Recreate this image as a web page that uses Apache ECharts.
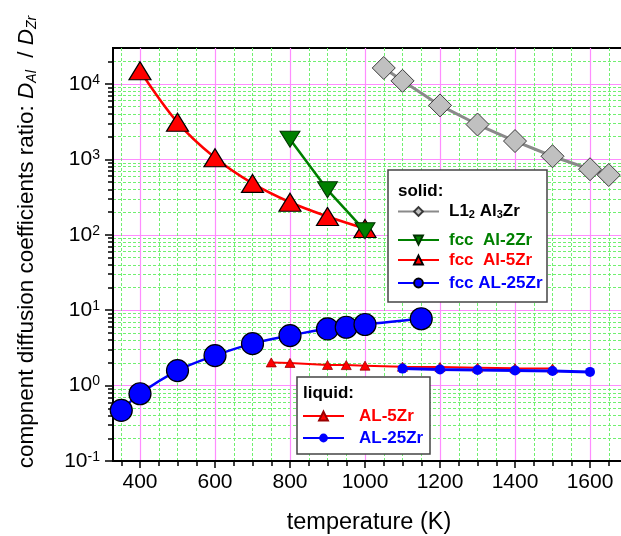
<!DOCTYPE html>
<html>
<head>
<meta charset="utf-8">
<script src="https://cdn.jsdelivr.net/npm/echarts@6/dist/echarts.min.js"></script>
<style>
  html, body { margin: 0; padding: 0; background: #fff; }
  #chart { width: 621px; height: 536px; }
</style>
</head>
<body>
<div id="chart"></div>
<script>
// Temperatures (K) and D_Al / D_Zr ratios for each phase / composition
const tempL12 = [1050, 1100, 1200, 1300, 1400, 1500, 1600, 1650];
const ratioL12 = [16300, 11000, 5200, 2900, 1750, 1100, 740, 620];

const tempFcc2 = [800, 900, 1000];
const ratioFcc2 = [1850, 395, 113];

const tempFcc5 = [400, 500, 600, 700, 800, 900, 1000];
const ratioFcc5 = [15000, 3100, 1050, 480, 270, 175, 121];

const tempFcc25 = [350, 400, 500, 600, 700, 800, 900, 950, 1000, 1150];
const ratioFcc25 = [0.47, 0.78, 1.58, 2.5, 3.6, 4.6, 5.66, 5.94, 6.46, 7.7];

const tempLiq5 = [750, 800, 900, 950, 1000, 1100, 1200, 1300, 1400, 1500];
const ratioLiq5 = [2.03, 2.0, 1.88, 1.87, 1.84, 1.78, 1.76, 1.73, 1.7, 1.68];

const tempLiq25 = [1100, 1200, 1300, 1400, 1500, 1600];
const ratioLiq25 = [1.68, 1.64, 1.61, 1.59, 1.56, 1.52];

// Tick positions
const xMajorTicks = [400, 600, 800, 1000, 1200, 1400, 1600];
const xMinorTicks = [350, 400, 450, 500, 550, 600, 650, 700, 750, 800, 850, 900, 950, 1000,
  1050, 1100, 1150, 1200, 1250, 1300, 1350, 1400, 1450, 1500, 1550, 1600, 1650];
const yMajorTicks = [0.1, 1, 10, 100, 1000, 10000];
const yMinorTicks = [0.2, 0.3, 0.4, 0.5, 0.6, 0.7, 0.8, 0.9,
  2, 3, 4, 5, 6, 7, 8, 9,
  20, 30, 40, 50, 60, 70, 80, 90,
  200, 300, 400, 500, 600, 700, 800, 900,
  2000, 3000, 4000, 5000, 6000, 7000, 8000, 9000,
  20000];

const FONT = '"Liberation Sans", Arial, Helvetica, sans-serif';
const MAGENTA = '#ff8cff';
const LIME = '#70f070';

function pairs(xs, ys) { return xs.map((x, i) => [x, ys[i]]); }

const chart = echarts.init(document.getElementById('chart'), null, { renderer: 'canvas' });

const commonX = { type: 'value', min: 328, max: 1700, position: 'bottom' };
const commonY = { type: 'log', logBase: 10, min: 0.1, max: 30000, position: 'left' };

function legendItem(name, left, cy, color, textPad, extra) {
  return Object.assign({
    show: true, orient: 'horizontal', left: left, top: cy - 9, padding: 0,
    itemWidth: 41, itemHeight: 11, selectedMode: false, z: 6,
    data: [name],
    textStyle: { fontFamily: FONT, fontSize: 17, fontWeight: 'bold', color: color,
      lineHeight: 18, padding: [0, 0, 0, textPad] }
  }, extra || {});
}

const option = {
  animation: false,
  backgroundColor: '#ffffff',
  grid: {
    left: 113, top: 48, width: 514.5, height: 413,
    show: true, borderColor: '#000', borderWidth: 2, backgroundColor: 'transparent',
    containLabel: false, outerBoundsMode: 'none'
  },
  xAxis: [
    Object.assign({}, commonX, {
      splitNumber: 27,
      axisLine: { show: true, onZero: false, lineStyle: { color: '#000', width: 2 } },
      axisTick: { show: true, length: 5, customValues: xMinorTicks, lineStyle: { color: '#000', width: 1.5 } },
      axisLabel: { show: false },
      splitLine: { show: true, lineStyle: { color: LIME, width: 1, type: [3, 2] } }
    }),
    Object.assign({}, commonX, {
      splitNumber: 7,
      axisLine: { show: false, onZero: false },
      axisTick: { show: true, length: 7, customValues: xMajorTicks, lineStyle: { color: '#000', width: 1.5 } },
      axisLabel: {
        show: true, customValues: xMajorTicks, margin: 11, color: '#000', fontSize: 21, fontFamily: FONT,
        formatter: function (v) { return String(v); }
      },
      splitLine: { show: true, lineStyle: { color: MAGENTA, width: 1.2 } }
    })
  ],
  yAxis: [
    Object.assign({}, commonY, {
      axisLine: { show: true, onZero: false, lineStyle: { color: '#000', width: 2 } },
      axisTick: { show: true, length: 5, customValues: yMinorTicks, lineStyle: { color: '#000', width: 1.5 } },
      axisLabel: { show: false },
      splitLine: { show: true, lineStyle: { color: LIME, width: 1, type: [3, 2] } }
    }),
    Object.assign({}, commonY, {
      axisLine: { show: false, onZero: false },
      axisTick: { show: true, length: 8, customValues: yMajorTicks, lineStyle: { color: '#000', width: 1.5 } },
      axisLabel: {
        show: true, customValues: yMajorTicks, margin: 13,
        formatter: function (v) {
          const e = Math.round(Math.log10(v));
          if (Math.abs(Math.log10(v) - e) > 1e-6) return '';
          return '{b|10}{sup|' + e + '}';
        },
        rich: {
          b: { fontSize: 21, fontFamily: FONT, color: '#000', lineHeight: 22 },
          sup: { fontSize: 14, fontFamily: FONT, color: '#000', lineHeight: 14, verticalAlign: 'top' }
        }
      },
      splitLine: { show: true, lineStyle: { color: MAGENTA, width: 1.2 } }
    })
  ],
  legend: [
    legendItem('L12 Al3Zr', 397, 212, '#000', 5, {
      formatter: function () { return '{n|L1}{s|2}{n| Al}{s|3}{n|Zr}'; },
      textStyle: {
        fontFamily: FONT, fontSize: 17, fontWeight: 'bold', color: '#000', padding: [0, 0, 0, 5],
        rich: {
          n: { fontFamily: FONT, fontSize: 17, fontWeight: 'bold', color: '#000', lineHeight: 18 },
          s: { fontFamily: FONT, fontSize: 11, fontWeight: 'bold', color: '#000', lineHeight: 10, verticalAlign: 'bottom' }
        }
      }
    }),
    legendItem('fcc  Al-2Zr', 397, 240, '#008000', 5),
    legendItem('fcc  Al-5Zr', 397, 260, '#ff0000', 5),
    legendItem('fcc AL-25Zr', 397, 283, '#0000ff', 5),
    legendItem('AL-5Zr', 302, 416, '#ff0000', 10),
    legendItem('AL-25Zr', 302, 438, '#0000ff', 10)
  ],
  graphic: [
    { type: 'rect', z: 3, shape: { x: 388, y: 170, width: 159, height: 132 },
      style: { fill: '#fff', stroke: '#444', lineWidth: 1.5 } },
    { type: 'rect', z: 3, shape: { x: 297, y: 377, width: 133, height: 77 },
      style: { fill: '#fff', stroke: '#444', lineWidth: 1.5 } },
    { type: 'text', z: 4, x: 398, y: 191,
      style: { text: 'solid:', fill: '#000', font: 'bold 17px ' + FONT, verticalAlign: 'middle' } },
    { type: 'text', z: 4, x: 303, y: 393,
      style: { text: 'liquid:', fill: '#000', font: 'bold 17px ' + FONT, verticalAlign: 'middle' } },
    { type: 'text', z: 4, x: 369, y: 523,
      style: { text: 'temperature (K)', fill: '#000', font: '23.5px ' + FONT, align: 'center', verticalAlign: 'middle' } },
    { type: 'text', z: 4, x: 27, y: 242, rotation: Math.PI / 2,
      style: {
        text: '{n|compnent diffusion coefficients ratio: }{d|D}{s|Al}{n|  / }{d|D}{s|Zr}',
        align: 'center', verticalAlign: 'middle', fill: '#000',
        rich: {
          n: { fontFamily: FONT, fontSize: 22.5, fill: '#000', lineHeight: 24 },
          d: { fontFamily: FONT, fontSize: 22.5, fontStyle: 'italic', fill: '#000', lineHeight: 24 },
          s: { fontFamily: FONT, fontSize: 14, fontStyle: 'italic', fill: '#000', lineHeight: 12, verticalAlign: 'bottom' }
        }
      } }
  ],
  series: [
    {
      name: 'L12 Al3Zr', type: 'line', data: pairs(tempL12, ratioL12),
      symbol: 'diamond', symbolSize: 23,
      lineStyle: { color: '#8a8a8a', width: 3 },
      itemStyle: { color: '#c0c0c0', borderColor: '#3a3a3a', borderWidth: 1 },
      z: 2
    },
    {
      name: 'fcc  Al-5Zr', type: 'line', data: pairs(tempFcc5, ratioFcc5),
      smooth: 0.35, symbol: 'triangle', symbolSize: [22, 18],
      lineStyle: { color: '#ff0000', width: 2.5 },
      itemStyle: { color: '#ff0000', borderColor: '#000', borderWidth: 1.2 },
      z: 2
    },
    {
      name: 'fcc  Al-2Zr', type: 'line', data: pairs(tempFcc2, ratioFcc2),
      symbol: 'path://M0,0 L10,0 L5,8 Z', symbolSize: [20, 16],
      lineStyle: { color: '#008000', width: 2.5 },
      itemStyle: { color: '#008000', borderColor: '#003300', borderWidth: 1 },
      z: 2
    },
    {
      name: 'fcc AL-25Zr', type: 'line', data: pairs(tempFcc25, ratioFcc25),
      smooth: 0.35, symbol: 'circle', symbolSize: 22,
      lineStyle: { color: '#0000ff', width: 2.5 },
      itemStyle: { color: '#0000ff', borderColor: '#000', borderWidth: 1.2 },
      z: 2
    },
    {
      name: 'AL-5Zr', type: 'line', data: pairs(tempLiq5, ratioLiq5),
      symbol: 'triangle', symbolSize: [10, 9],
      lineStyle: { color: '#ff0000', width: 2 },
      itemStyle: { color: '#ff0000', borderColor: '#990000', borderWidth: 0.8 },
      z: 2
    },
    {
      name: 'AL-25Zr', type: 'line', data: pairs(tempLiq25, ratioLiq25),
      symbol: 'circle', symbolSize: 10,
      lineStyle: { color: '#0000ff', width: 3 },
      itemStyle: { color: '#0000ff' },
      z: 2
    }
  ]
};

chart.setOption(option);
</script>
</body>
</html>
